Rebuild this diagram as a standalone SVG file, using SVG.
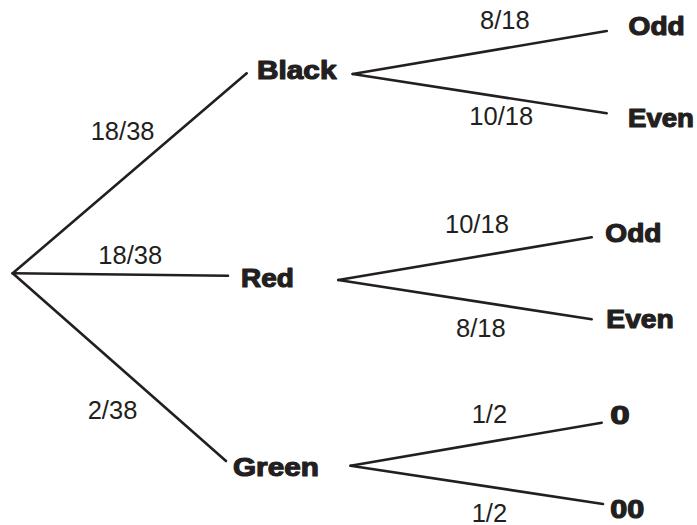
<svg xmlns="http://www.w3.org/2000/svg" width="697" height="525" viewBox="0 0 697 525">
<style>
.edge{stroke:#231f20;stroke-width:2.6;fill:none;stroke-linecap:round}
.lbl{font-family:"Liberation Sans",Arial,sans-serif;font-size:25.5px;fill:#231f20}
.node{font-family:"Liberation Sans",Arial,sans-serif;font-size:26px;font-weight:bold;fill:#231f20;stroke:#231f20;stroke-width:1.2;stroke-linejoin:round}
</style>
<rect width="697" height="525" fill="#ffffff"/>
<g id="connectors">
<line class="edge" x1="12.7" y1="273.3" x2="246.7" y2="73.3"/>
<line class="edge" x1="12.7" y1="273.3" x2="228" y2="275.7"/>
<line class="edge" x1="12.7" y1="273.3" x2="226" y2="461"/>
<line class="edge" x1="352.7" y1="74" x2="606.7" y2="31"/>
<line class="edge" x1="352.7" y1="74" x2="606.7" y2="113.3"/>
<line class="edge" x1="338.3" y1="280" x2="591.7" y2="237.3"/>
<line class="edge" x1="338.3" y1="280" x2="591.7" y2="319.3"/>
<line class="edge" x1="350.5" y1="465.7" x2="601.7" y2="422.7"/>
<line class="edge" x1="350.5" y1="465.7" x2="603" y2="504"/>
</g>
<g id="edge-labels">
<text class="lbl" x="90.7" y="140">18/38</text>
<text class="lbl" x="98.3" y="264">18/38</text>
<text class="lbl" x="87.7" y="419.3">2/38</text>
<text class="lbl" x="480" y="29.3">8/18</text>
<text class="lbl" x="469.3" y="125">10/18</text>
<text class="lbl" x="445" y="232.7">10/18</text>
<text class="lbl" x="456" y="336.7">8/18</text>
<text class="lbl" x="471.7" y="423.3">1/2</text>
<text class="lbl" x="471.7" y="521.5">1/2</text>
</g>
<g id="node-black"><text class="node" x="257" y="79.3" textLength="79.5" lengthAdjust="spacingAndGlyphs">Black</text></g>
<g id="node-red"><text class="node" x="241" y="287.3" textLength="52.8" lengthAdjust="spacingAndGlyphs">Red</text></g>
<g id="node-green"><text class="node" x="233" y="476" textLength="85.8" lengthAdjust="spacingAndGlyphs">Green</text></g>
<g id="node-black-odd"><text class="node" x="628.6" y="35" textLength="56.2" lengthAdjust="spacingAndGlyphs">Odd</text></g>
<g id="node-black-even"><text class="node" x="628" y="126.7" textLength="66" lengthAdjust="spacingAndGlyphs">Even</text></g>
<g id="node-red-odd"><text class="node" x="605.3" y="241.7" textLength="56.2" lengthAdjust="spacingAndGlyphs">Odd</text></g>
<g id="node-red-even"><text class="node" x="606.3" y="328.3" textLength="67.5" lengthAdjust="spacingAndGlyphs">Even</text></g>
<g id="node-green-0"><text class="node" x="610.3" y="424" textLength="19.5" lengthAdjust="spacingAndGlyphs">0</text></g>
<g id="node-green-00"><text class="node" x="610.3" y="518" textLength="34" lengthAdjust="spacingAndGlyphs">00</text></g>
</svg>
